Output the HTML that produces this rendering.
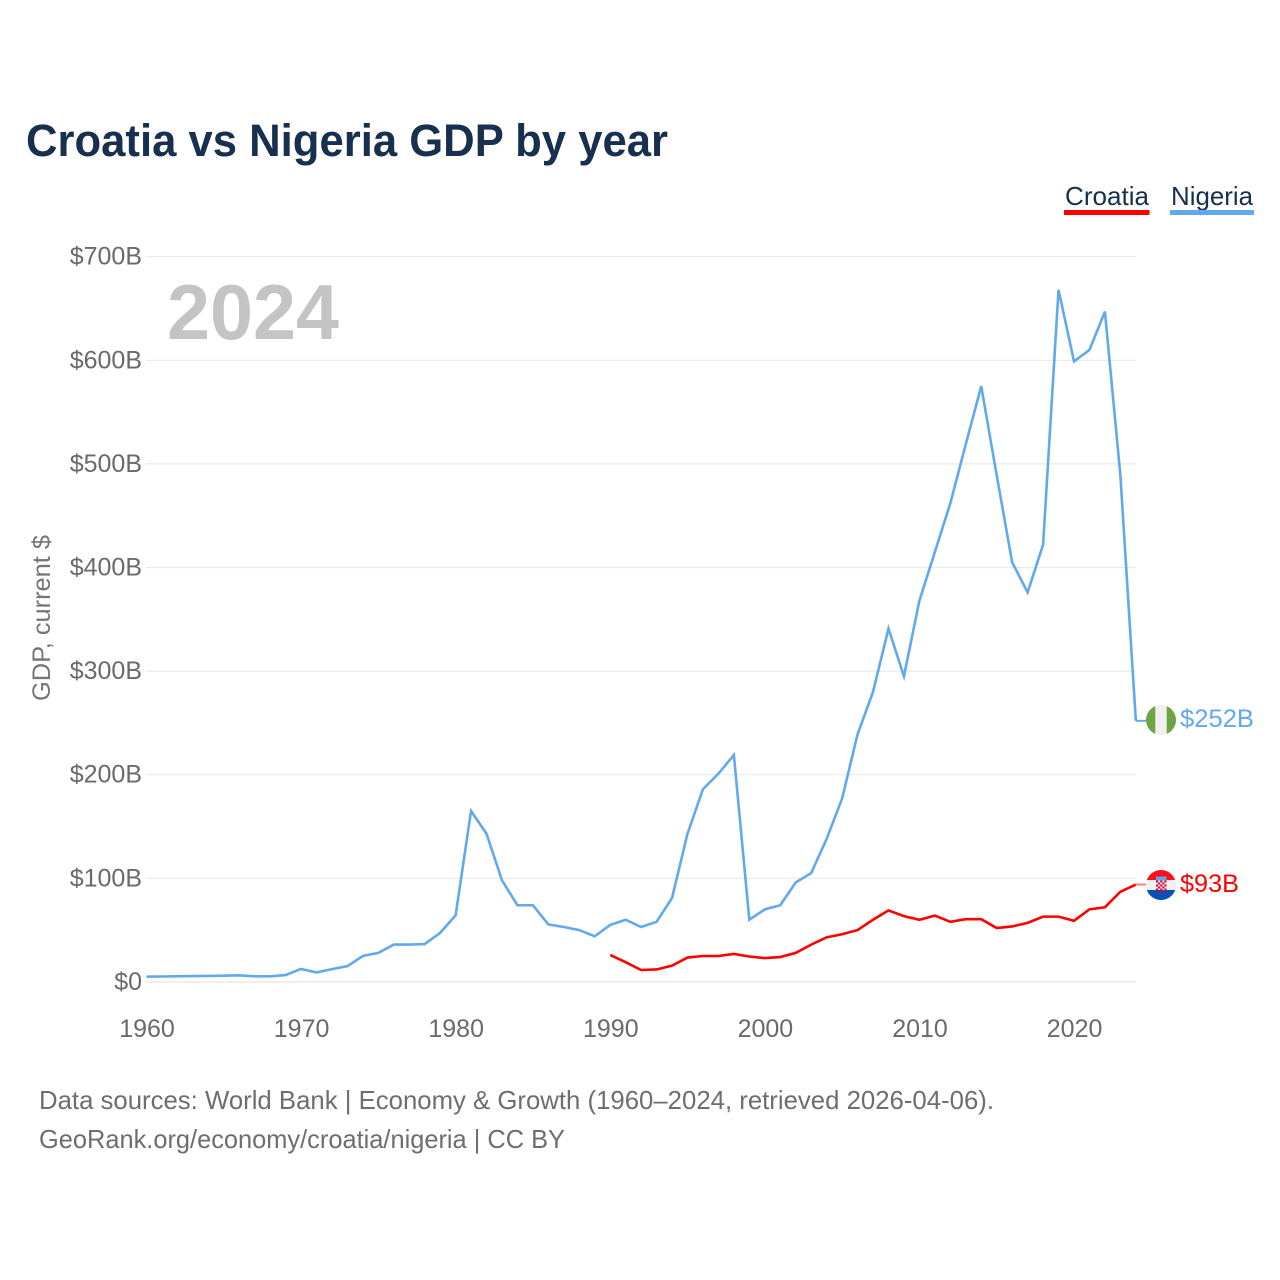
<!DOCTYPE html>
<html lang="en">
<head>
<meta charset="utf-8">
<title>Croatia vs Nigeria GDP by year</title>
<style>
html,body{margin:0;padding:0;background:#fff;width:1280px;height:1280px;overflow:hidden}
svg{display:block}
text{font-family:"Liberation Sans",sans-serif}
</style>
</head>
<body>
<svg id="chart" xmlns="http://www.w3.org/2000/svg" width="1280" height="1280" viewBox="0 0 1280 1280">
  <rect x="0" y="0" width="1280" height="1280" fill="#ffffff"/>
  <text x="26" y="156" font-size="45" font-weight="700" fill="#17304f" textLength="642" lengthAdjust="spacingAndGlyphs">Croatia vs Nigeria GDP by year</text>

  <g id="grid"></g>
  <g id="yticks"></g>
  <g id="xticks"></g>

  <text transform="translate(50,701) rotate(-90)" font-size="25" fill="#757575" textLength="166" lengthAdjust="spacingAndGlyphs">GDP, current $</text>
  <text x="167" y="339" font-size="78" font-weight="700" fill="#c4c4c4" textLength="172" lengthAdjust="spacingAndGlyphs">2024</text>

  <g id="series"></g>

  <g>
    <text x="1065" y="205" font-size="26" fill="#17304f" textLength="84" lengthAdjust="spacingAndGlyphs">Croatia</text>
    <rect x="1064" y="210" width="85.5" height="5" fill="#ff0000"/>
  </g>
  <g>
    <text x="1171" y="205" font-size="26" fill="#17304f" textLength="82" lengthAdjust="spacingAndGlyphs">Nigeria</text>
    <rect x="1170" y="210" width="84" height="5" fill="#62a8ee"/>
  </g>

  <defs>
    <clipPath id="flag-clip-ng"><circle cx="1161" cy="720" r="15"/></clipPath>
    <clipPath id="flag-clip-hr"><circle cx="1161" cy="885" r="15"/></clipPath>
  </defs>

  <g id="flag-nigeria" clip-path="url(#flag-clip-ng)">
    <rect x="1146" y="705" width="30" height="30" fill="#f0f0f0"/>
    <rect x="1146" y="705" width="9.3" height="30" fill="#6da544"/>
    <rect x="1166.7" y="705" width="10" height="30" fill="#6da544"/>
  </g>
  <g id="flag-croatia" clip-path="url(#flag-clip-hr)">
    <rect x="1146" y="870" width="30" height="30" fill="#f0f0f0"/>
    <rect x="1146" y="870" width="30" height="10" fill="#ff0f17"/>
    <rect x="1146" y="890" width="30" height="10" fill="#0052b4"/>
    <rect x="1156" y="876.5" width="10.5" height="4" fill="#5ca5e6"/>
    <g id="flag-shield" fill="#d80027"></g>
  </g>

  <text x="1180" y="727" font-size="25" fill="#62a8ee" textLength="74" lengthAdjust="spacingAndGlyphs">$252B</text>
  <text x="1180" y="892" font-size="25" fill="#ff0000" textLength="59" lengthAdjust="spacingAndGlyphs">$93B</text>

  <text x="39" y="1109" font-size="26" fill="#6e6e6e" textLength="955" lengthAdjust="spacingAndGlyphs">Data sources: World Bank | Economy &amp; Growth (1960–2024, retrieved 2026-04-06).</text>
  <text x="39" y="1148" font-size="26" fill="#6e6e6e" textLength="526" lengthAdjust="spacingAndGlyphs">GeoRank.org/economy/croatia/nigeria | CC BY</text>
</svg>

<script>
const yTickValues = [0, 100, 200, 300, 400, 500, 600, 700];
const yTickLabels = ['$0', '$100B', '$200B', '$300B', '$400B', '$500B', '$600B', '$700B'];
const xTickYears = [1960, 1970, 1980, 1990, 2000, 2010, 2020];
const nigeriaStartYear = 1960;
const nigeriaValues = [5, 5.2, 5.4, 5.6, 5.8, 6, 6.4, 5.4, 5.4, 6.6, 12.5, 9.2, 12.3, 15.2, 25, 28, 36, 36, 36.5, 47.3, 64.2, 165, 143, 98, 74, 74, 55.5, 53, 50, 44, 55, 60, 53, 58, 81, 143, 186, 201, 219, 60, 70, 74, 96, 105, 138, 177, 239, 280, 341, 295, 368, 415, 462, 519, 575, 489, 405, 376, 422, 668, 599, 610, 647, 489, 252];
const croatiaStartYear = 1990;
const croatiaValues = [26, 19, 11.5, 12, 15.7, 23.5, 25, 25, 27, 24.5, 23, 24, 28, 36, 43, 46, 50, 60, 69, 63.5, 60, 64, 58, 60.5, 60.5, 52, 53.5, 57, 63, 63, 59, 70, 72, 87, 94];

const SVGNS = 'http://www.w3.org/2000/svg';
function xScale(year) { return 146.4 + (year - 1960) * 15.46; }
function yScale(value) { return 981.9 - value * 1.036; }
const plotRight = xScale(2024);

const gridGroup = document.getElementById('grid');
const yTickGroup = document.getElementById('yticks');
const xTickGroup = document.getElementById('xticks');
const seriesGroup = document.getElementById('series');

yTickValues.forEach(function (value, i) {
  const line = document.createElementNS(SVGNS, 'line');
  
  
  line.setAttribute('x1', 146);
  line.setAttribute('x2', 1136);
  line.setAttribute('y1', yScale(value));
  line.setAttribute('y2', yScale(value));
  line.setAttribute('stroke', value === 0 ? '#eeeeee' : '#e9e9e9');
  line.setAttribute('stroke-width', value === 0 ? 2 : 1.2);
  gridGroup.appendChild(line);

  const label = document.createElementNS(SVGNS, 'text');
  
  
  label.setAttribute('x', 142);
  label.setAttribute('y', yScale(value) + 8);
  label.setAttribute('text-anchor', 'end');
  label.setAttribute('font-size', 25);
  label.setAttribute('fill', '#6a6a6a');
  label.textContent = yTickLabels[i];
  yTickGroup.appendChild(label);
});

xTickYears.forEach(function (year) {
  const label = document.createElementNS(SVGNS, 'text');
  
  
  label.setAttribute('x', xScale(year) + 0.6);
  label.setAttribute('y', 1037);
  label.setAttribute('text-anchor', 'middle');
  label.setAttribute('font-size', 25);
  label.setAttribute('fill', '#6a6a6a');
  label.textContent = String(year);
  xTickGroup.appendChild(label);
});

function pointsFor(values, startYear) {
  return values.map(function (v, i) {
    return xScale(startYear + i).toFixed(2) + ',' + yScale(v).toFixed(2);
  }).join(' ');
}

const nigeriaLine = document.createElementNS(SVGNS, 'polyline');


nigeriaLine.setAttribute('points', pointsFor(nigeriaValues, nigeriaStartYear));
nigeriaLine.setAttribute('fill', 'none');
nigeriaLine.setAttribute('stroke', '#62a8ee');
nigeriaLine.setAttribute('stroke-width', 2.6);
nigeriaLine.setAttribute('stroke-linejoin', 'miter');
seriesGroup.appendChild(nigeriaLine);

const croatiaLine = document.createElementNS(SVGNS, 'polyline');


croatiaLine.setAttribute('points', pointsFor(croatiaValues, croatiaStartYear));
croatiaLine.setAttribute('fill', 'none');
croatiaLine.setAttribute('stroke', '#ff0000');
croatiaLine.setAttribute('stroke-width', 2.6);
croatiaLine.setAttribute('stroke-linejoin', 'miter');
seriesGroup.appendChild(croatiaLine);

const nigeriaConnector = document.createElementNS(SVGNS, 'line');


nigeriaConnector.setAttribute('x1', plotRight);
nigeriaConnector.setAttribute('x2', 1146);
nigeriaConnector.setAttribute('y1', yScale(nigeriaValues[nigeriaValues.length - 1]));
nigeriaConnector.setAttribute('y2', yScale(nigeriaValues[nigeriaValues.length - 1]));
nigeriaConnector.setAttribute('stroke', '#62a8ee');
nigeriaConnector.setAttribute('stroke-width', 2);
seriesGroup.appendChild(nigeriaConnector);

const croatiaConnector = document.createElementNS(SVGNS, 'line');


croatiaConnector.setAttribute('x1', plotRight);
croatiaConnector.setAttribute('x2', 1146);
croatiaConnector.setAttribute('y1', yScale(croatiaValues[croatiaValues.length - 1]));
croatiaConnector.setAttribute('y2', yScale(croatiaValues[croatiaValues.length - 1]));
croatiaConnector.setAttribute('stroke', '#f7808a');
croatiaConnector.setAttribute('stroke-width', 2);
seriesGroup.appendChild(croatiaConnector);

const shield = document.getElementById('flag-shield');
for (let row = 0; row < 6; row++) {
  for (let col = 0; col < 5; col++) {
    if ((row + col) % 2 === 0) {
      const cell = document.createElementNS(SVGNS, 'rect');
      cell.setAttribute('x', 1156 + col * 2.1);
      cell.setAttribute('y', 880.5 + row * 2);
      cell.setAttribute('width', 2.1);
      cell.setAttribute('height', 2);
      shield.appendChild(cell);
    }
  }
}
</script>
</body>
</html>
